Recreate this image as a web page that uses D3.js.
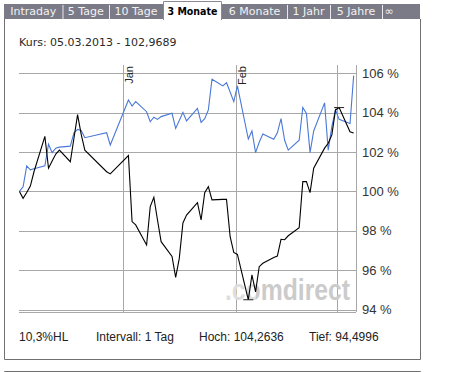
<!DOCTYPE html>
<html>
<head>
<meta charset="utf-8">
<script src="https://cdn.jsdelivr.net/npm/d3@7"></script>
<style>
  html, body { margin: 0; padding: 0; background: #fff; }
  svg { display: block; }
</style>
</head>
<body>
<div id="chart"></div>
<script>
// ---------------- data ----------------
const tradingDays = [
  "2012-12-03","2012-12-04","2012-12-05","2012-12-06","2012-12-07",
  "2012-12-10","2012-12-11","2012-12-12","2012-12-13","2012-12-14",
  "2012-12-17","2012-12-18","2012-12-19","2012-12-20","2012-12-21",
  "2012-12-27","2012-12-28",
  "2013-01-02","2013-01-03","2013-01-04",
  "2013-01-07","2013-01-08","2013-01-09","2013-01-10","2013-01-11",
  "2013-01-14","2013-01-15","2013-01-16","2013-01-17","2013-01-18",
  "2013-01-21","2013-01-22","2013-01-23","2013-01-24","2013-01-25",
  "2013-01-28","2013-01-29","2013-01-30","2013-01-31","2013-02-01",
  "2013-02-04","2013-02-05","2013-02-06","2013-02-07","2013-02-08",
  "2013-02-11","2013-02-12","2013-02-13","2013-02-14","2013-02-15",
  "2013-02-18","2013-02-19","2013-02-20","2013-02-21","2013-02-22",
  "2013-02-25","2013-02-26","2013-02-27","2013-02-28","2013-03-01",
  "2013-03-04","2013-03-05"
];
// main instrument (black), in % of start
const kursValues = [
  100.0, 99.65, 99.95, 100.27, 101.0,
  102.8, 101.18, 101.55, 101.9, 102.1,
  101.51, 102.7, 103.9, 102.9, 102.1,
  101.0, 100.89,
  101.82, 98.47, 98.3,
  97.28, 99.23, 99.7, 98.55, 97.45,
  96.7, 95.64, 96.6, 98.4, 98.8,
  99.43, 98.55, 99.94, 100.24, 99.57,
  99.6, 99.6, 97.7, 96.9, 96.8,
  94.5, 95.76, 94.9, 96.18, 96.35,
  96.65, 96.72, 97.57, 97.55, 97.75,
  98.16, 100.5, 100.5, 99.94, 101.18,
  102.2, 102.45, 102.87, 104.14, 104.26,
  103.03, 102.97
];
// comparison (blue), in % of start
const compareValues = [
  100.0, 100.24, 101.3, 101.1, 101.15,
  101.3, 102.4, 101.97, 102.2, 102.25,
  102.3, 102.98, 103.15, 103.1, 102.73,
  102.98, 102.36,
  104.64, 104.34, 104.56,
  104.05, 103.54, 103.77, 103.66, 103.8,
  103.97, 103.2, 103.6, 104.02, 103.58,
  104.22, 103.51, 103.7, 104.14, 105.7,
  105.36, 105.52, 105.05, 104.56, 105.36,
  102.66, 103.07, 101.97, 102.5, 102.92,
  102.65, 102.98, 103.7, 102.6, 102.1,
  102.6, 104.27, 103.96, 101.97, 103.07,
  104.5, 102.1, 103.3, 104.14, 103.66,
  103.45, 105.88
];
const yTicks = [94, 96, 98, 100, 102, 104, 106];
const monthTicks = ["2013-01-01", "2013-02-01", "2013-03-01"];
const monthLabels = ["Jan", "Feb", ""];
const tabLabels = ["Intraday", "5 Tage", "10 Tage", "3 Monate", "6 Monate", "1 Jahr", "5 Jahre", "\u221E"];
const activeTab = 3;
const headerText = "Kurs: 05.03.2013 - 102,9689";
const footerTexts = ["10,3%HL", "Intervall: 1 Tag", "Hoch: 104,2636", "Tief: 94,4996"];
const watermark = ".comdirect";

// ---------------- layout ----------------
const W = 461, H = 372;
const plot = { left: 19, right: 356, top: 65, bottom: 312 };
const tabEdges = [4, 62.5, 109, 163, 222, 287, 330, 382, 396];
const footerX = [19, 96, 199, 309];

const svg = d3.select("#chart").append("svg")
  .attr("width", W).attr("height", H);

const parse = d3.timeParse("%Y-%m-%d");
const pointDate = s => { const d = parse(s); d.setHours(12); return d; };

const x = d3.scaleTime()
  .domain([new Date(2012, 11, 3, 9, 0), new Date(2013, 2, 6, 3, 30)])
  .range([plot.left, plot.right]);
const y = d3.scaleLinear().domain([94, 106]).range([309.6, 73.3]);

// ---------------- tabs ----------------
const tabG = svg.append("g");
tabG.append("rect").attr("x", 4).attr("y", 4).attr("width", 416).attr("height", 15)
  .attr("fill", "#7b7b88");
tabLabels.forEach((t, i) => {
  const x0 = tabEdges[i], x1 = tabEdges[i + 1];
  if (i === activeTab) {
    tabG.append("rect").attr("x", x0).attr("y", 1).attr("width", x1 - x0).attr("height", 19)
      .attr("fill", "#fff");
    tabG.append("path")
      .attr("d", `M${x0 + 0.5},20V1.5H${x1 - 0.5}V20`)
      .attr("fill", "none").attr("stroke", "#8a8a96");
  } else if (i > 0 && i !== activeTab + 1) {
    tabG.append("line").attr("x1", x0 + 0.5).attr("x2", x0 + 0.5).attr("y1", 5).attr("y2", 19)
      .attr("stroke", "#e8e8ee");
  }
  const tx = tabG.append("text")
    .attr("x", (x0 + x1) / 2).attr("y", 15)
    .attr("text-anchor", "middle")
    .attr("font-family", "DejaVu Sans, Verdana, sans-serif")
    .attr("font-size", 11)
    .attr("font-weight", i === activeTab ? "bold" : "normal")
    .attr("fill", i === activeTab ? "#000" : "#f2f2f2")
    .text(t);
  if (i === activeTab) tx.attr("textLength", 50).attr("lengthAdjust", "spacingAndGlyphs");
});

// ---------------- frames ----------------
svg.append("path").attr("d", "M4.5,19V359.5H420.5V19")
  .attr("fill", "none").attr("stroke", "#707070");
svg.append("path").attr("d", "M4.5,372V371.5H420.5V372")
  .attr("fill", "none").attr("stroke", "#707070");

// ---------------- header ----------------
svg.append("text").attr("x", 19).attr("y", 46)
  .attr("font-family", "DejaVu Sans, Verdana, sans-serif").attr("font-size", 11)
  .attr("fill", "#2a2a2a").text(headerText);

// ---------------- grid ----------------
const grid = svg.append("g").attr("stroke", "#a8a8a8").attr("shape-rendering", "crispEdges");
grid.selectAll("line.h").data(yTicks).join("line")
  .attr("class", "h")
  .attr("x1", plot.left).attr("x2", plot.right)
  .attr("y1", d => Math.round(y(d)) + 0.5).attr("y2", d => Math.round(y(d)) + 0.5);
grid.selectAll("line.v").data(monthTicks.map(parse)).join("line")
  .attr("class", "v")
  .attr("x1", d => Math.round(x(d)) + 0.5).attr("x2", d => Math.round(x(d)) + 0.5)
  .attr("y1", plot.top).attr("y2", plot.bottom);
grid.append("line").attr("x1", plot.right + 0.5).attr("x2", plot.right + 0.5)
  .attr("y1", plot.top).attr("y2", plot.bottom);
grid.append("line").attr("x1", plot.left).attr("x2", plot.right)
  .attr("y1", plot.bottom + 0.5).attr("y2", plot.bottom + 0.5);

// y labels
svg.append("g").selectAll("text").data(yTicks).join("text")
  .attr("x", plot.right + 6).attr("y", d => y(d))
  .attr("dy", "0.35em")
  .attr("font-family", "Liberation Sans, Arial, sans-serif").attr("font-size", 13)
  .attr("fill", "#333")
  .text(d => d + " %");

// month labels (rotated)
svg.append("g").selectAll("text").data(monthTicks.map(parse)).join("text")
  .attr("transform", d => `translate(${x(d) + 10.5},${plot.top + 1}) rotate(-90)`)
  .attr("text-anchor", "end")
  .attr("font-family", "Liberation Sans, Arial, sans-serif").attr("font-size", 11)
  .attr("fill", "#222")
  .text((d, i) => monthLabels[i]);

// ---------------- watermark ----------------
const grad = svg.append("defs").append("linearGradient")
  .attr("id", "wmgrad").attr("gradientUnits", "userSpaceOnUse")
  .attr("x1", 225).attr("x2", 350).attr("y1", 0).attr("y2", 0);
grad.append("stop").attr("offset", 0).attr("stop-color", "#dedede");
grad.append("stop").attr("offset", 0.25).attr("stop-color", "#dedede");
grad.append("stop").attr("offset", 0.25).attr("stop-color", "#cbcbcb");
grad.append("stop").attr("offset", 1).attr("stop-color", "#cbcbcb");
svg.append("text").attr("x", 225).attr("y", 300)
  .attr("font-family", "Liberation Sans, Arial, sans-serif").attr("font-size", 29)
  .attr("font-weight", "bold")
  .attr("textLength", 125).attr("lengthAdjust", "spacingAndGlyphs")
  .attr("fill", "url(#wmgrad)")
  .text(watermark);

// ---------------- series ----------------
const kurs = tradingDays.map((d, i) => ({ date: pointDate(d), v: kursValues[i] }));
const comp = tradingDays.map((d, i) => ({ date: pointDate(d), v: compareValues[i] }));
const line = d3.line().x(d => x(d.date)).y(d => y(d.v));

svg.append("path").datum(comp).attr("d", line)
  .attr("fill", "none").attr("stroke", "#4a78d8").attr("stroke-width", 1.1);
svg.append("path").datum(kurs).attr("d", line)
  .attr("fill", "none").attr("stroke", "#000").attr("stroke-width", 1.1);

// high / low markers
const hi = kurs[d3.maxIndex(kurs, d => d.v)], lo = kurs[d3.minIndex(kurs, d => d.v)];
[hi, lo].forEach(p => {
  svg.append("line")
    .attr("x1", x(p.date) - 5).attr("x2", x(p.date) + 5)
    .attr("y1", y(p.v)).attr("y2", y(p.v))
    .attr("stroke", "#222").attr("stroke-width", 1);
});

// ---------------- footer ----------------
svg.append("g").selectAll("text").data(footerTexts).join("text")
  .attr("x", (d, i) => footerX[i]).attr("y", 340.5)
  .attr("font-family", "Liberation Sans, Arial, sans-serif").attr("font-size", 12)
  .attr("fill", "#222")
  .text(d => d);
</script>
</body>
</html>
